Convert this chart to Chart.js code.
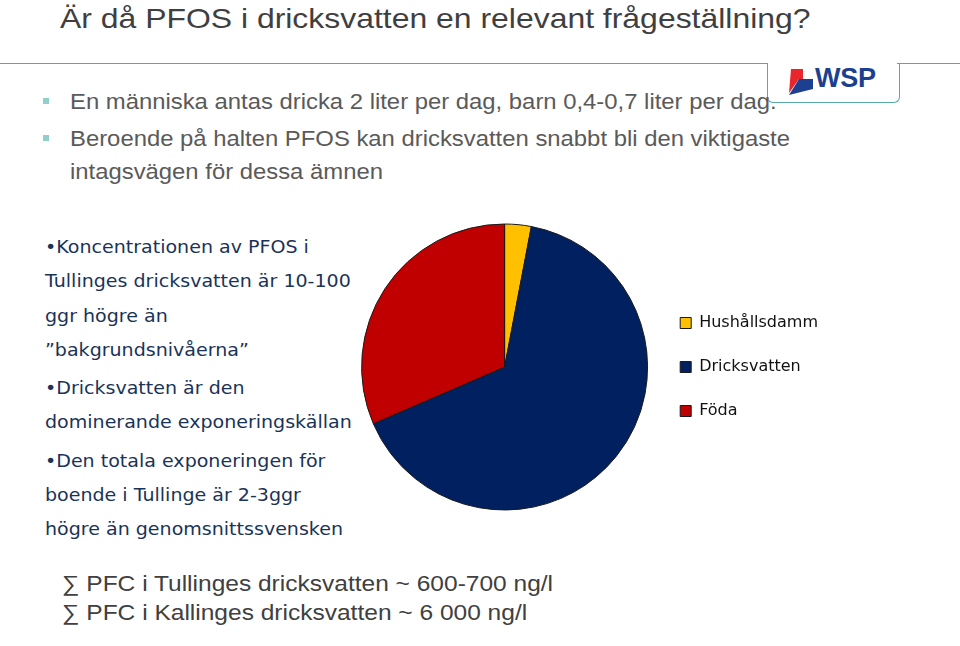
<!DOCTYPE html>
<html>
<head>
<meta charset="utf-8">
<script src="https://cdn.jsdelivr.net/npm/chart.js@4"></script>
<style>
  html, body { margin: 0; padding: 0; background: #fff; }
  body { width: 960px; height: 646px; position: relative; overflow: hidden; font-family: "Liberation Sans", Arial, sans-serif; }
  .wide { transform: scaleX(1.12); transform-origin: 0 0; }
  .title { position: absolute; left: 60px; top: 2px; font-size: 28.5px; color: #3f3f3f; white-space: nowrap; }
  .rule { position: absolute; top: 63px; height: 0; border-top: 1.5px solid #58a9ab; }
  .logo { position: absolute; left: 767px; top: 63px; width: 131px; height: 39px; border: 1.5px solid #58a9ab; border-top: none; border-radius: 0 0 6px 6px; }
  .logo span { position: absolute; left: 47px; top: 0px; font: bold 27px "Liberation Sans", Arial, sans-serif; color: #1d3f8f; letter-spacing: -0.3px; }
  .logo svg { position: absolute; left: 19px; top: 4px; }
  .sq { position: absolute; width: 6px; height: 6px; background: #8fd0cd; }
  .bullets { position: absolute; left: 70px; top: 86px; font-size: 21.3px; color: #5a5a5a; line-height: 33px; white-space: nowrap; z-index: 2; }
  .side { position: absolute; left: 45px; top: 230px; font-family: "DejaVu Sans", Verdana, sans-serif; font-size: 17px; color: #1a3358; line-height: 34.3px; white-space: nowrap; }
  .side p { margin: 0 0 4px 0; }
  .sums { position: absolute; left: 62px; top: 569px; font-size: 21.9px; color: #404040; line-height: 29px; white-space: nowrap; }
  #wrap { position: absolute; left: 350px; top: 215px; width: 560px; height: 304px; }
</style>
</head>
<body>
<div class="title wide">Är då PFOS i dricksvatten en relevant frågeställning?</div>
<div class="rule" style="left:0; width:768px;"></div>
<div class="rule" style="left:897px; width:63px;"></div>
<div class="logo">
  <svg width="28" height="30" viewBox="0 0 28 30">
    <polygon points="4,2 12,2 12,12 2,26" fill="#e8262b"/>
    <polygon points="12,12 26,12 26,22 2,28" fill="#1d3f8f"/>
    <polygon points="12,2 16,2 16,12 12,12" fill="#e8262b"/>
  </svg>
  <span>WSP</span>
</div>
<div class="sq" style="left:43px; top:98px;"></div>
<div class="sq" style="left:43px; top:135px;"></div>
<div class="bullets wide">
  <div>En människa antas dricka 2 liter per dag, barn 0,4-0,7 liter per dag.</div>
  <div style="margin-top:4px;">Beroende på halten PFOS kan dricksvatten snabbt bli den viktigaste<br>intagsvägen för dessa ämnen</div>
</div>
<div class="side wide">
  <p>•Koncentrationen av PFOS i<br>Tullinges dricksvatten är 10-100<br>ggr högre än<br>”bakgrundsnivåerna”</p>
  <p>•Dricksvatten är den<br>dominerande exponeringskällan</p>
  <p>•Den totala exponeringen för<br>boende i Tullinge är 2-3ggr<br>högre än genomsnittssvensken</p>
</div>
<div class="sums wide">∑ PFC i Tullinges dricksvatten ~ 600-700 ng/l<br>∑ PFC i Kallinges dricksvatten ~ 6 000 ng/l</div>
<div id="wrap"><canvas id="pie"></canvas></div>
<script>
const sources = ['Hushållsdamm', 'Dricksvatten', 'Föda'];
const shares = [3, 65.5, 31.5];
const sliceColors = ['#ffc000', '#002060', '#c00000'];

new Chart(document.getElementById('pie'), {
  type: 'pie',
  data: {
    labels: sources,
    datasets: [{
      data: shares,
      backgroundColor: sliceColors,
      borderColor: '#1a1a1a',
      borderWidth: 1,
      radius: 143
    }]
  },
  options: {
    responsive: true,
    maintainAspectRatio: false,
    animation: false,
    layout: { padding: { left: 7, right: 82, top: 8, bottom: 8 } },
    plugins: {
      tooltip: { enabled: false },
      legend: {
        position: 'right',
        labels: {
          boxWidth: 11,
          boxHeight: 11,
          padding: 28,
          color: '#111',
          font: { family: '"DejaVu Sans", Verdana, sans-serif', size: 16 }
        }
      }
    }
  }
});
</script>
</body>
</html>
